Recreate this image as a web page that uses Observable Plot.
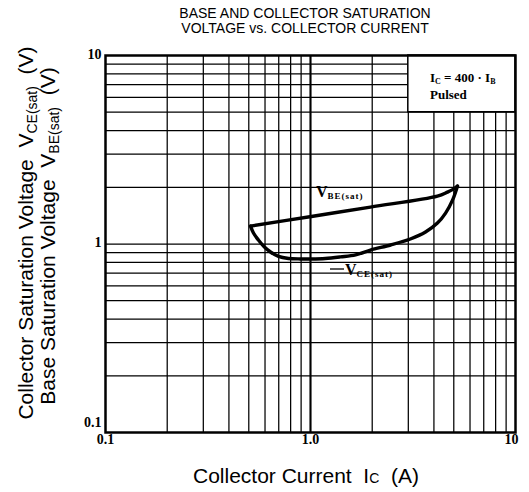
<!DOCTYPE html>
<html><head><meta charset="utf-8">
<script src="https://cdn.jsdelivr.net/npm/d3@7"></script>
<script src="https://cdn.jsdelivr.net/npm/@observablehq/plot@0.6"></script>
<style>body{margin:0;background:#fff;} svg{display:block}</style>
</head><body><div id="chart"></div>
<script>
// ---- data ----
const titleLines = ["BASE AND COLLECTOR SATURATION", "VOLTAGE vs. COLLECTOR CURRENT"];
const xTicks = [0.1, 1];
const xTickLabels = ["0.1", "1.0"];
const xTickEnd = [10];
const xTickEndLabels = ["10"];
const yTicks = [10, 1];
const yTickLabels = ["10", "1"];
const yTickLow = [0.1];
const yTickLowLabels = ["0.1"];
const gridMultipliers = [2, 3, 4, 5, 6, 7, 8, 9];
const decades = [0.1, 1];
// V_BE(sat) vs Ic
const vbeIc = [0.51, 1.01, 1.96, 4.16, 4.66, 4.98, 5.21];
const vbeV  = [1.245, 1.40, 1.57, 1.795, 1.885, 1.954, 2.027];
// V_CE(sat) vs Ic
const vceIc = [0.51, 0.527, 0.557, 0.596, 0.638, 0.698, 0.781, 0.894, 1.01, 1.18, 1.40, 1.66, 1.96, 2.46, 3.07, 3.64, 4.16, 4.56, 4.93, 5.21];
const vceV  = [1.245, 1.144, 1.050, 0.964, 0.907, 0.859, 0.838, 0.833, 0.833, 0.838, 0.854, 0.875, 0.929, 0.988, 1.063, 1.157, 1.291, 1.459, 1.709, 2.027];
const legendBox = [{x1: 3, x2: 10, y1: 5, y2: 10}];
const legendLines = ["Pulsed"];

const gridVals = decades.flatMap(d => gridMultipliers.map(m => +(d * m).toFixed(3))).concat([1]);
const vbe = vbeIc.map((ic, i) => ({ic, v: vbeV[i]}));
const vce = vceIc.map((ic, i) => ({ic, v: vceV[i]}));

const SERIF = "'Liberation Serif','Times New Roman',serif";
const SANS = "'Liberation Sans',Arial,sans-serif";
const tickStyle = {fontSize: 14, fontWeight: "bold", fontFamily: SERIF, fill: "#000"};

const fig = Plot.plot({
  width: 529, height: 492,
  marginLeft: 105, marginRight: 14, marginTop: 55, marginBottom: 60,
  x: {type: "log", domain: [0.1, 10], axis: null},
  y: {type: "log", domain: [0.1, 10], axis: null},
  style: {background: "#fff", fontFamily: SERIF},
  marks: [
    Plot.ruleX(gridVals, {stroke: "#000", strokeWidth: 1.25}),
    Plot.ruleX([1], {stroke: "#000", strokeWidth: 2}),
    Plot.ruleY(gridVals, {stroke: "#000", strokeWidth: 1.25}),
    Plot.rect(legendBox, {x1: "x1", x2: "x2", y1: "y1", y2: "y2", fill: "#fff", stroke: "#000", strokeWidth: 1.5}),
    Plot.line(vbe, {x: "ic", y: "v", stroke: "#000", strokeWidth: 3.4, curve: "catmull-rom"}),
    Plot.line(vce, {x: "ic", y: "v", stroke: "#000", strokeWidth: 3.4, curve: "catmull-rom"}),
    Plot.frame({stroke: "#000", strokeWidth: 2.5}),
    Plot.text(xTicks, {x: d => d, frameAnchor: "bottom", dy: 11, text: (d, i) => xTickLabels[i], ...tickStyle}),
    Plot.text(xTickEnd, {x: d => d, frameAnchor: "bottom", dy: 11, dx: -4, text: (d, i) => xTickEndLabels[i], ...tickStyle}),
    Plot.text(yTicks, {y: d => d, frameAnchor: "left", dx: -4, dy: -1, textAnchor: "end", text: (d, i) => yTickLabels[i], ...tickStyle}),
    Plot.text(yTickLow, {y: d => d, frameAnchor: "left", dx: -4, dy: -10, textAnchor: "end", text: (d, i) => yTickLowLabels[i], ...tickStyle})
  ]
});
document.getElementById("chart").appendChild(fig);

const svg = d3.select(fig);
// title
titleLines.forEach((t, i) => {
  svg.append("text").attr("x", 305).attr("y", 18 + i * 15).attr("text-anchor", "middle")
    .attr("font-family", SANS).attr("font-size", 14).attr("fill", "#000").text(t);
});
// x axis title
const xt = svg.append("text").attr("x", 306).attr("y", 483).attr("text-anchor", "middle")
  .attr("font-family", SANS).attr("font-size", 21).attr("fill", "#000").style("white-space", "pre");
xt.append("tspan").text("Collector Current  I");
xt.append("tspan").attr("font-size", 14).text("C");
xt.append("tspan").text("  (A)");
// y axis titles
function yTitle(x, y, main, sub) {
  const t = svg.append("text").attr("transform", `translate(${x},${y}) rotate(-90)`)
    .attr("text-anchor", "middle").attr("font-family", SANS).attr("font-size", 21).attr("fill", "#000")
    .style("white-space", "pre");
  t.append("tspan").text(main + "  V");
  t.append("tspan").attr("font-size", 14).attr("dy", 4).text(sub);
  t.append("tspan").attr("dy", -4).text("  (V)");
}
yTitle(33, 233, "Collector Saturation Voltage", "CE(sat)");
yTitle(55, 236, "Base Saturation Voltage", "BE(sat)");
// legend text
const lg = svg.append("text").attr("x", 430).attr("y", 82).attr("text-anchor", "start").attr("font-family", SERIF)
  .attr("font-weight", "bold").attr("font-size", 13).attr("fill", "#000").style("white-space", "pre");
lg.append("tspan").text("I");
lg.append("tspan").attr("font-size", 8).attr("dy", 2).text("C");
lg.append("tspan").attr("dy", -2).text(" = 400 · I");
lg.append("tspan").attr("font-size", 8).attr("dy", 2).text("B");
svg.append("text").attr("x", 430).attr("y", 99).attr("text-anchor", "start").attr("font-family", SERIF).attr("font-weight", "bold")
  .attr("font-size", 13).attr("fill", "#000").text(legendLines[0]);
// curve labels
function curveLabel(x, y, sub) {
  const t = svg.append("text").attr("x", x).attr("y", y).attr("text-anchor", "start").attr("font-family", SERIF)
    .attr("font-weight", "bold").attr("font-size", 16).attr("fill", "#000");
  t.append("tspan").text("V");
  t.append("tspan").attr("font-size", 9).attr("dy", 2).attr("letter-spacing", 1).text(sub);
  return t;
}
curveLabel(316, 197, "BE(sat)");
svg.append("line").attr("x1", 330).attr("x2", 344).attr("y1", 269).attr("y2", 269)
  .attr("stroke", "#000").attr("stroke-width", 1.3);
curveLabel(345, 275, "CE(sat)");
</script>
</body></html>
